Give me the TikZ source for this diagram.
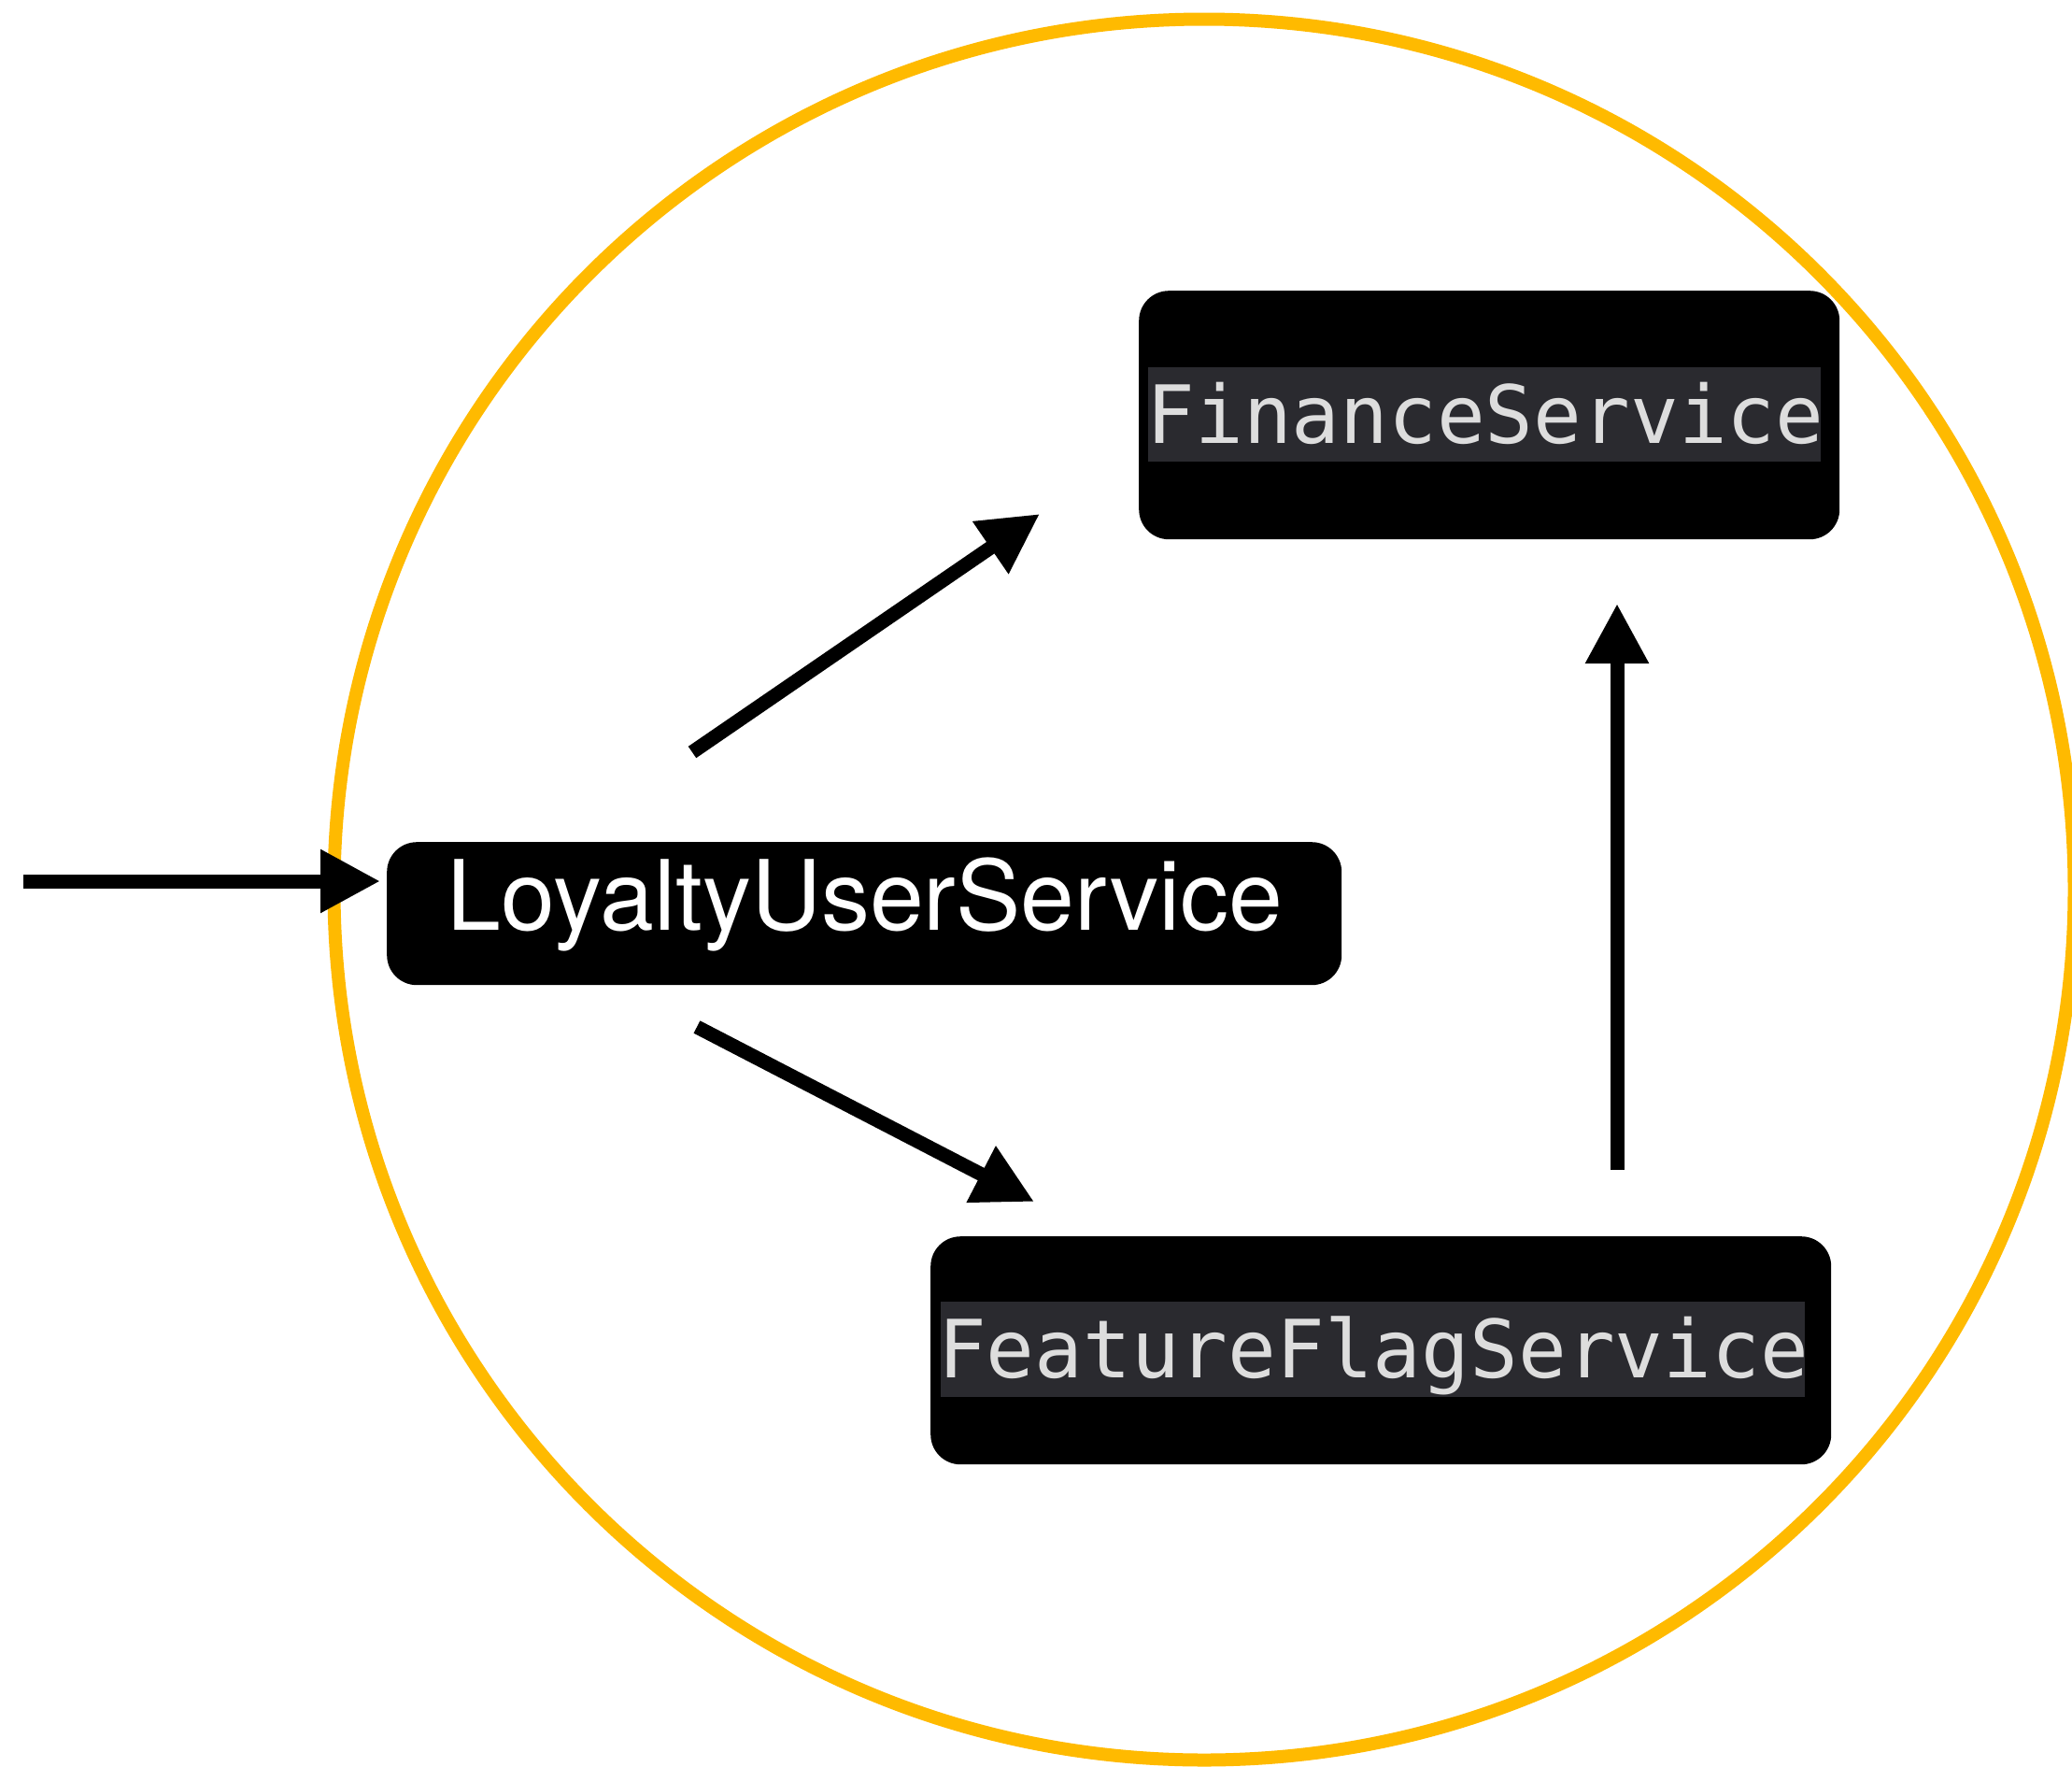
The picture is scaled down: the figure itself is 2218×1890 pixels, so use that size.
\documentclass[tikz,border=0pt]{standalone}
\usepackage{fontspec}
\newfontfamily\herosfont{TeX Gyre Heros}
\newfontfamily\monofont{DejaVu Sans Mono}
\usetikzlibrary{arrows.meta}
\definecolor{amber}{RGB}{255,186,0}
\definecolor{codebg}{RGB}{42,42,47}
\definecolor{codefg}{RGB}{221,221,221}
\tikzset{
  svcbox/.style={rectangle, rounded corners=32pt, fill=black, draw=none, inner sep=0pt, anchor=north west},
  codebgbox/.style={rectangle, fill=codebg, draw=none, inner sep=0pt, anchor=north west},
  codetext/.style={text=codefg, inner sep=0pt, anchor=base, font=\monofont\fontsize{86}{90}\selectfont},
  sanstext/.style={text=white, inner sep=0pt, anchor=base, font=\herosfont\fontsize{104}{110}\selectfont},
  flow/.style={line width=15pt, -{Triangle[length=64pt,width=64pt]}},
}
\begin{document}
\begin{tikzpicture}[x=1pt, y=-1pt]
\useasboundingbox (0,0) rectangle (2218,1890);
% boundary circle
\draw[amber, line width=14pt] (1289,952) circle (931.5);
% boxes
\node[svcbox, minimum width=1022pt, minimum height=153pt] (loyalty) at (414,901) {};
\node[sanstext] (loyaltylabel) at (926,995) {LoyaltyUserService};
\node[svcbox, minimum width=750pt, minimum height=266pt] (finance) at (1219,311) {};
\node[codebgbox, minimum width=720pt, minimum height=101pt] (financebg) at (1229,393) {};
\node[codetext] (financelabel) at (1590,474) {FinanceService};
\node[svcbox, minimum width=964pt, minimum height=244pt] (feature) at (996,1323) {};
\node[codebgbox, minimum width=925pt, minimum height=102pt] (featurebg) at (1007,1393) {};
\node[codetext] (featurelabel) at (1470,1474) {FeatureFlagService};
% connector end points
\coordinate (inS) at (25,943);
\coordinate (inE) at (407,943);
\coordinate (finS) at (741,805);
\coordinate (finE) at (1113,550);
\coordinate (feaS) at (746,1099);
\coordinate (feaE) at (1107,1286);
\coordinate (upS) at (1731,1252);
\coordinate (upE) at (1731,646);
% connectors
\draw[flow] (inS) -- (inE);
\draw[flow] (finS) -- (finE);
\draw[flow] (feaS) -- (feaE);
\draw[flow] (upS) -- (upE);
\end{tikzpicture}
\end{document}
